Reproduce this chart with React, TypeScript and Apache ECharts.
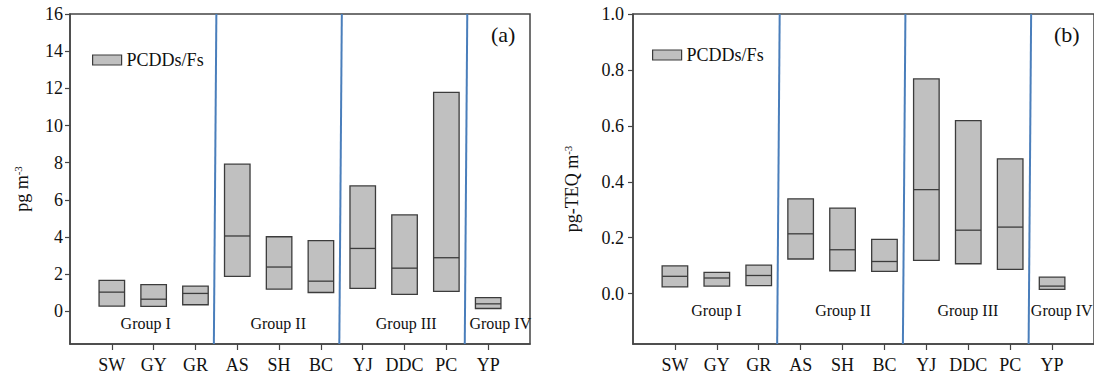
import React, { useEffect, useRef } from "react";
import * as echarts from "echarts";

const categories = ["SW", "GY", "GR", "AS", "SH", "BC", "YJ", "DDC", "PC", "YP"];
const concLow = [0.29, 0.27, 0.36, 1.89, 1.2, 1.02, 1.24, 0.92, 1.08, 0.16];
const concMedian = [1.04, 0.66, 0.97, 4.06, 2.39, 1.63, 3.39, 2.33, 2.89, 0.41];
const concHigh = [1.67, 1.44, 1.36, 7.92, 4.02, 3.81, 6.75, 5.19, 11.78, 0.74];
const teqLow = [0.024, 0.027, 0.029, 0.124, 0.082, 0.08, 0.119, 0.107, 0.087, 0.015];
const teqMedian = [0.062, 0.056, 0.065, 0.214, 0.157, 0.115, 0.372, 0.227, 0.238, 0.027];
const teqHigh = [0.099, 0.076, 0.102, 0.339, 0.306, 0.194, 0.768, 0.619, 0.482, 0.059];
const groupNames = ["Group I", "Group II", "Group III", "Group IV"];
const groupBoundaries = [3.5, 6.5, 9.5];
const concTicks = [0, 2, 4, 6, 8, 10, 12, 14, 16];
const teqTicks = [0, 0.2, 0.4, 0.6, 0.8, 1.0];
const seriesName = "PCDDs/Fs";

// layout
const FONT = "Liberation Serif";
const TEXT = "#111";
const AXIS = "#444";
const BOX_FILL = "#c0c0c0";
const BOX_STROKE = "#3c3c3c";
const SEP = "#4a7ebb";
const HALF = 0.305;
const SLANT = -0.06;
const groupPosA = [[1.81, -0.66], [4.98, -0.66], [8.04, -0.66], [10.29, -0.66]];
const groupPosB = [[1.99, -0.059], [5.01, -0.059], [7.99, -0.059], [10.23, -0.059]];
const panelA = { yMin: -1.75, yMax: 16 };
const panelB = { yMin: -0.18, yMax: 1.0 };

function boxRender(params: any, api: any) {
  const x = api.value(0);
  const lo = api.value(1);
  const med = api.value(2);
  const hi = api.value(3);
  const p1 = api.coord([x - HALF, hi]);
  const p2 = api.coord([x + HALF, lo]);
  const pm = api.coord([x, med]);
  return {
    type: "group",
    children: [
      {
        type: "rect",
        shape: { x: p1[0], y: p1[1], width: p2[0] - p1[0], height: p2[1] - p1[1] },
        style: { fill: BOX_FILL, stroke: BOX_STROKE, lineWidth: 1.3 },
      },
      {
        type: "line",
        shape: { x1: p1[0], y1: pm[1], x2: p2[0], y2: pm[1] },
        style: { stroke: BOX_STROKE, lineWidth: 1.3 },
      },
    ],
  };
}

function sepRender(range: { yMin: number; yMax: number }) {
  return (params: any, api: any) => {
    const b = api.value(0);
    const top = api.coord([b, range.yMax]);
    const bot = api.coord([b + SLANT, range.yMin]);
    return {
      type: "line",
      shape: { x1: top[0], y1: top[1], x2: bot[0], y2: bot[1] },
      style: { stroke: SEP, lineWidth: 2 },
    };
  };
}

function groupRender(params: any, api: any) {
  const p = api.coord([api.value(0), api.value(1)]);
  return {
    type: "text",
    x: p[0],
    y: p[1],
    style: {
      text: groupNames[params.dataIndex],
      fill: TEXT,
      fontSize: 16,
      fontFamily: FONT,
      align: "center",
      verticalAlign: "middle",
    },
  };
}

function xAxisFor(gridIndex: number) {
  return {
    type: "value",
    gridIndex,
    min: 0,
    max: 11,
    interval: 1,
    axisLine: { show: true, onZero: false, lineStyle: { color: AXIS, width: 1.5 } },
    axisTick: { show: true, inside: false, length: 6, lineStyle: { color: AXIS, width: 1.2 }, customValues: categories.map((_, i) => i + 1) },
    axisLabel: {
      customValues: categories.map((_, i) => i + 1),
      formatter: (v: number) => categories[Math.round(v) - 1] || "",
      fontSize: 18,
      fontFamily: FONT,
      color: TEXT,
      margin: 12,
    },
    splitLine: { show: false },
  };
}

function yName(text: string) {
  return {
    name: "{t|" + text + "}{s|-3}",
    nameLocation: "middle",
    nameTextStyle: {
      fontSize: 18,
      fontFamily: FONT,
      color: TEXT,
      padding: [0, 20, 0, 0],
      rich: {
        t: { fontSize: 18, fontFamily: FONT, color: TEXT },
        s: { fontSize: 11, fontFamily: FONT, color: TEXT, verticalAlign: "top", padding: [0, 0, 8, 0] },
      },
    },
  };
}

export default function App() {
  const ref = useRef<HTMLDivElement>(null);
  useEffect(() => {
    if (!ref.current) return;
    const chart = echarts.init(ref.current, null, { renderer: "svg" });
    const legendCommon = {
      icon: "rect",
      itemWidth: 29,
      itemHeight: 10,
      itemGap: 6,
      padding: 0,
      selectedMode: false,
      textStyle: { fontSize: 18, fontFamily: FONT, color: TEXT },
    };
    const legendItem = {
      name: seriesName,
      icon: "rect",
      itemStyle: { color: BOX_FILL, borderColor: BOX_STROKE, borderWidth: 1.2 },
    };
    const option: any = {
      animation: false,
      backgroundColor: "#fff",
      textStyle: { fontFamily: FONT },
      title: [
        { text: "(a)", left: 491, top: 23, padding: 0, textStyle: { fontSize: 22, fontWeight: "normal", fontFamily: FONT, color: TEXT } },
        { text: "(b)", left: 1054, top: 23, padding: 0, textStyle: { fontSize: 22, fontWeight: "normal", fontFamily: FONT, color: TEXT } },
      ],
      legend: [
        { ...legendCommon, left: 92, top: 51, data: [legendItem] },
        { ...legendCommon, left: 652, top: 46, data: [legendItem] },
      ],
      grid: [
        { left: 70, top: 14, width: 460, height: 330, show: true, borderColor: AXIS, borderWidth: 1.5, backgroundColor: "transparent" },
        { left: 633, top: 14, width: 462, height: 330, show: true, borderColor: AXIS, borderWidth: 1.5, backgroundColor: "transparent" },
      ],
      xAxis: [xAxisFor(0), xAxisFor(1)],
      yAxis: [
        {
          type: "value",
          gridIndex: 0,
          min: panelA.yMin,
          max: panelA.yMax,
          axisLine: { show: true, onZero: false, lineStyle: { color: AXIS, width: 1.5 } },
          axisTick: { show: true, length: 5, lineStyle: { color: AXIS, width: 1.2 }, customValues: concTicks },
          axisLabel: { customValues: concTicks, formatter: (v: number) => String(v), fontSize: 18, fontFamily: FONT, color: TEXT, margin: 7 },
          splitLine: { show: false },
          ...yName("pg m"),
          nameGap: 39,
        },
        {
          type: "value",
          gridIndex: 1,
          min: panelB.yMin,
          max: panelB.yMax,
          axisLine: { show: true, onZero: false, lineStyle: { color: AXIS, width: 1.5 } },
          axisTick: { show: true, length: 5, lineStyle: { color: AXIS, width: 1.2 }, customValues: teqTicks },
          axisLabel: { customValues: teqTicks, formatter: (v: number) => v.toFixed(1), fontSize: 18, fontFamily: FONT, color: TEXT, margin: 9 },
          splitLine: { show: false },
          ...yName("pg-TEQ m"),
          nameGap: 52,
        },
      ],
      series: [
        {
          type: "custom",
          name: seriesName,
          xAxisIndex: 0,
          yAxisIndex: 0,
          renderItem: boxRender,
          itemStyle: { color: BOX_FILL, borderColor: BOX_STROKE },
          encode: { x: 0, y: [1, 2, 3] },
          data: categories.map((_, i) => [i + 1, concLow[i], concMedian[i], concHigh[i]]),
          z: 3,
        },
        {
          type: "custom",
          name: seriesName,
          xAxisIndex: 1,
          yAxisIndex: 1,
          renderItem: boxRender,
          itemStyle: { color: BOX_FILL, borderColor: BOX_STROKE },
          encode: { x: 0, y: [1, 2, 3] },
          data: categories.map((_, i) => [i + 1, teqLow[i], teqMedian[i], teqHigh[i]]),
          z: 3,
        },
        {
          type: "custom",
          name: "sepA",
          xAxisIndex: 0,
          yAxisIndex: 0,
          renderItem: sepRender(panelA),
          encode: { x: 0 },
          data: groupBoundaries.map((b) => [b]),
          z: 4,
          silent: true,
        },
        {
          type: "custom",
          name: "sepB",
          xAxisIndex: 1,
          yAxisIndex: 1,
          renderItem: sepRender(panelB),
          encode: { x: 0 },
          data: groupBoundaries.map((b) => [b]),
          z: 4,
          silent: true,
        },
        {
          type: "custom",
          name: "groupsA",
          xAxisIndex: 0,
          yAxisIndex: 0,
          renderItem: groupRender,
          encode: { x: 0, y: 1 },
          data: groupPosA,
          z: 5,
          silent: true,
        },
        {
          type: "custom",
          name: "groupsB",
          xAxisIndex: 1,
          yAxisIndex: 1,
          renderItem: groupRender,
          encode: { x: 0, y: 1 },
          data: groupPosB,
          z: 5,
          silent: true,
        },
      ],
    };
    chart.setOption(option);
    return () => chart.dispose();
  }, []);
  return (
    <div
      ref={ref}
      style={{ position: "fixed", left: 0, top: 0, width: 1094, height: 375, background: "#fff" }}
    />
  );
}
